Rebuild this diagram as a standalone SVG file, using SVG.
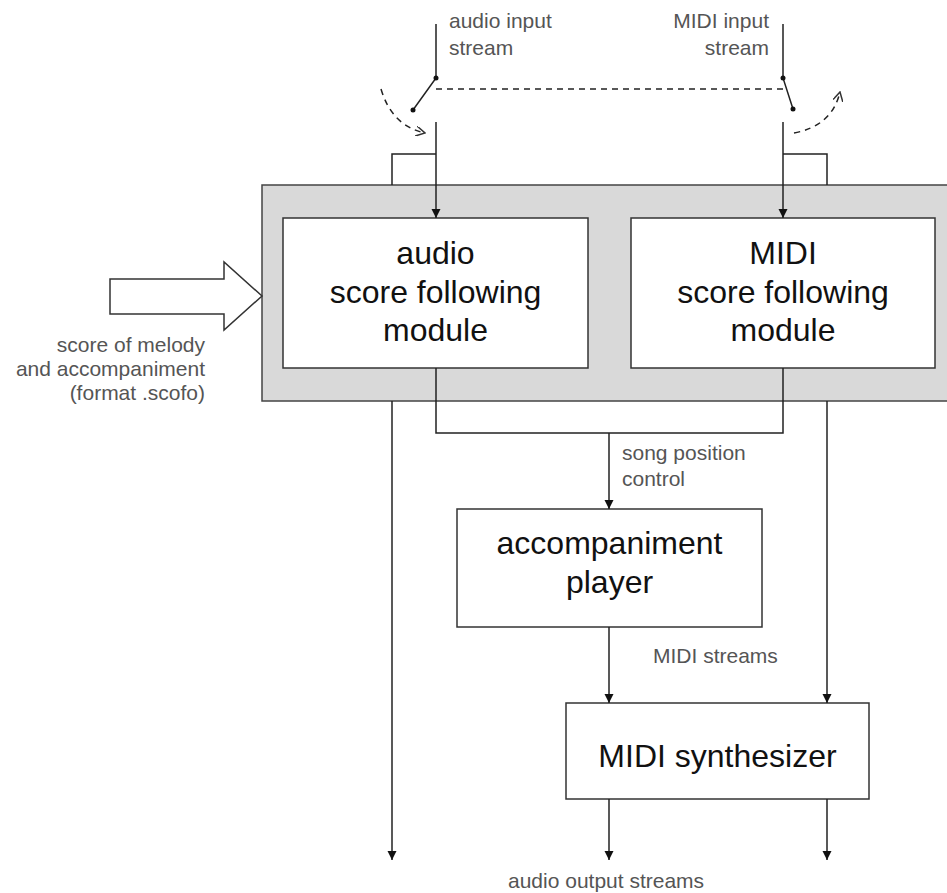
<svg xmlns="http://www.w3.org/2000/svg" width="947" height="893" viewBox="0 0 947 893">
<style>
.ln{fill:none;stroke:#222;stroke-width:1.5}
.dash{fill:none;stroke:#222;stroke-width:1.5;stroke-dasharray:6 5}
.box{fill:#fff;stroke:#333;stroke-width:1.5}
.big{font-family:"Liberation Sans",Arial,sans-serif;font-size:32px;fill:#111;text-anchor:middle}
.lbl{font-family:"Liberation Sans",Arial,sans-serif;font-size:21px;fill:#555}
</style>
<defs>
<marker id="ah" viewBox="0 0 10 10" refX="10" refY="5" markerWidth="9" markerHeight="10" markerUnits="userSpaceOnUse" orient="auto">
<path d="M0,0 L10,5 L0,10 Z" fill="#111"/>
</marker>
<marker id="oh" viewBox="0 0 10 10" refX="9" refY="5" markerWidth="10" markerHeight="10" markerUnits="userSpaceOnUse" orient="auto">
<path d="M0,0 L9,5 L0,10" fill="none" stroke="#333" stroke-width="1.5"/>
</marker>
</defs>
<rect width="947" height="893" fill="#fff"/>
<g id="container">
<rect x="262" y="185" width="700" height="216" fill="#d9d9d9" stroke="#444" stroke-width="1.5"/>
</g>
<g id="score-arrow">
<polygon points="110,279 224,279 224,262 262,296 224,330 224,314 110,314" fill="#fff" stroke="#333" stroke-width="1.5"/>
<text class="lbl" text-anchor="end" x="205" y="352">score of melody</text>
<text class="lbl" text-anchor="end" x="205" y="376">and accompaniment</text>
<text class="lbl" text-anchor="end" x="205" y="400">(format .scofo)</text>
</g>
<g id="audio-module">
<rect class="box" x="283" y="218" width="305" height="150"/>
<text class="big" x="435.5" y="264">audio</text>
<text class="big" x="435.5" y="303">score following</text>
<text class="big" x="435.5" y="341">module</text>
</g>
<g id="midi-module">
<rect class="box" x="631" y="218" width="304" height="150"/>
<text class="big" x="783" y="264">MIDI</text>
<text class="big" x="783" y="303">score following</text>
<text class="big" x="783" y="341">module</text>
</g>
<g id="accompaniment-player">
<rect class="box" x="457" y="509" width="305" height="118"/>
<text class="big" x="609.5" y="554">accompaniment</text>
<text class="big" x="609.5" y="593">player</text>
</g>
<g id="midi-synthesizer">
<rect class="box" x="566" y="703" width="303" height="96"/>
<text class="big" x="717.5" y="767">MIDI synthesizer</text>
</g>
<g id="connectors">
<path class="ln" d="M436,24 V78 L413,110"/>
<path class="ln" d="M783,24 V78 L793,109"/>
<circle cx="436" cy="78" r="2.5" fill="#111"/>
<circle cx="413" cy="110" r="2.5" fill="#111"/>
<circle cx="783" cy="78" r="2.5" fill="#111"/>
<circle cx="793" cy="109" r="2.5" fill="#111"/>
<path class="dash" d="M436,89 H783"/>
<path class="dash" d="M381,89 Q392,126 425,133" stroke="#555" marker-end="url(#oh)"/>
<path class="dash" d="M794,133 Q832,126 840,92" stroke="#555" marker-end="url(#oh)"/>
<path class="ln" d="M436,122 V218" marker-end="url(#ah)"/>
<path class="ln" d="M783,122 V218" marker-end="url(#ah)"/>
<path class="ln" d="M436,154 H392 V185"/>
<path class="ln" d="M783,154 H827 V185"/>
<path class="ln" d="M436,368 V433 H783 V368"/>
<path class="ln" d="M609,433 V509" marker-end="url(#ah)"/>
<path class="ln" d="M392,401 V860" marker-end="url(#ah)"/>
<path class="ln" d="M827,401 V703" marker-end="url(#ah)"/>
<path class="ln" d="M609,627 V703" marker-end="url(#ah)"/>
<path class="ln" d="M609,799 V860" marker-end="url(#ah)"/>
<path class="ln" d="M827,799 V860" marker-end="url(#ah)"/>
</g>
<g id="labels">
<text class="lbl" x="449" y="28">audio input</text>
<text class="lbl" x="449" y="55">stream</text>
<text class="lbl" text-anchor="end" x="769" y="28">MIDI input</text>
<text class="lbl" text-anchor="end" x="769" y="55">stream</text>
<text class="lbl" x="622" y="460">song position</text>
<text class="lbl" x="622" y="486">control</text>
<text class="lbl" x="653" y="663">MIDI streams</text>
<text class="lbl" x="508" y="888">audio output streams</text>
</g>
</svg>
